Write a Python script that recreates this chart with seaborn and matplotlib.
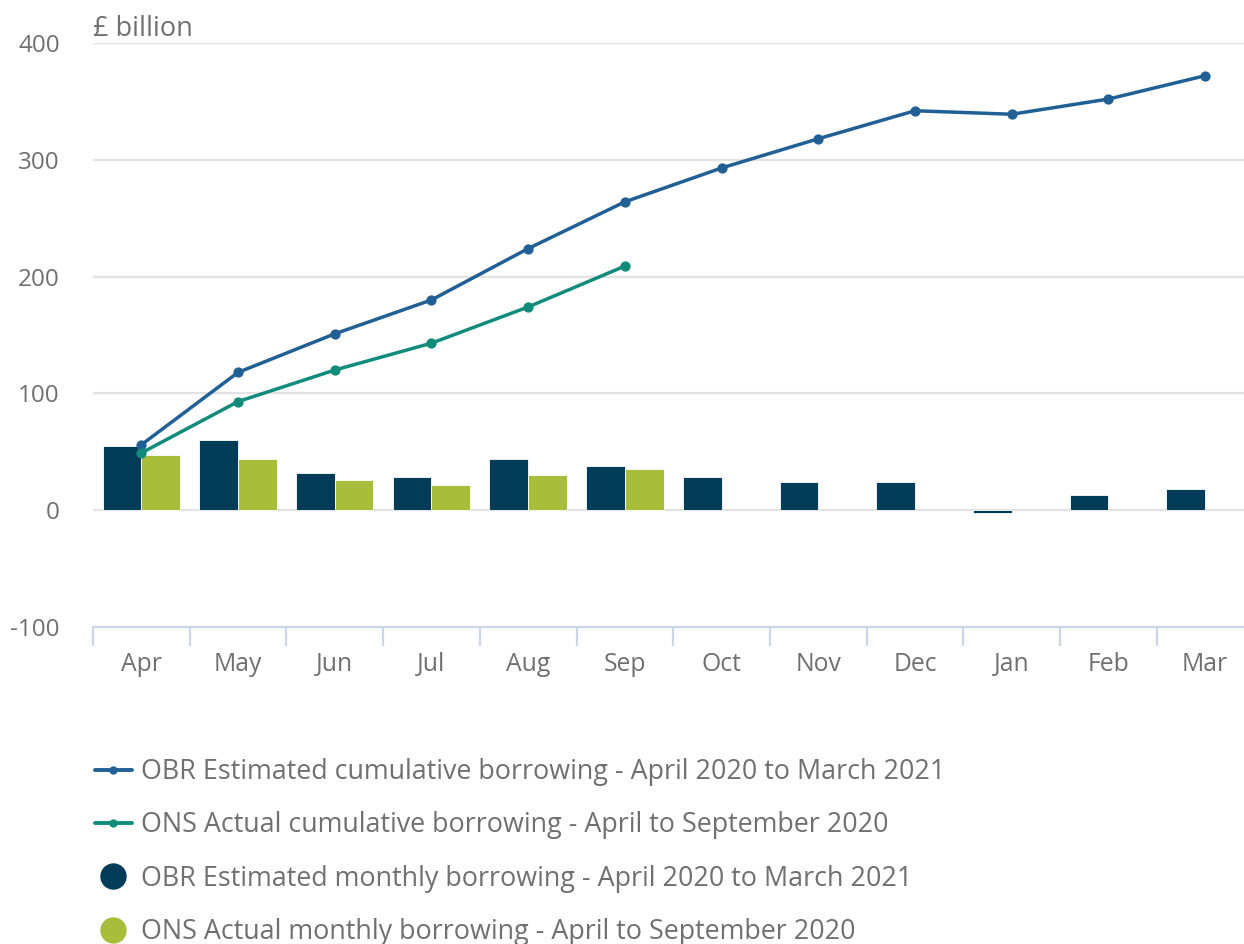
import matplotlib
matplotlib.use("Agg")
import matplotlib.pyplot as plt
from matplotlib.lines import Line2D
from matplotlib.ticker import FixedLocator
import numpy as np
import pandas as pd
import seaborn as sns

months = ["Apr", "May", "Jun", "Jul", "Aug", "Sep", "Oct", "Nov", "Dec", "Jan", "Feb", "Mar"]
obr_cumulative = [56, 118, 151, 180, 224, 264, 293, 318, 342, 339, 352, 372]
ons_cumulative = [49, 93, 120, 143, 174, 209]
obr_monthly = [55, 60.5, 32, 28, 43.5, 37.5, 28, 24, 24, -2.7, 12.6, 18.5]
ons_monthly = [47.5, 43.5, 26, 22, 30, 35.7]

lab_obr_cum = "OBR Estimated cumulative borrowing - April 2020 to March 2021"
lab_ons_cum = "ONS Actual cumulative borrowing - April to September 2020"
lab_obr_mon = "OBR Estimated monthly borrowing - April 2020 to March 2021"
lab_ons_mon = "ONS Actual monthly borrowing - April to September 2020"

c_obr_line = "#206095"
c_ons_line = "#118c7b"
c_obr_bar = "#003c57"
c_ons_bar = "#a8bd3a"
txt = "#707070"

sns.set_theme(style="white")
plt.rcParams["font.family"] = ["Open Sans", "DejaVu Sans"]

bars = pd.DataFrame({
    "month": months * 2,
    "value": obr_monthly + ons_monthly + [np.nan] * (len(months) - len(ons_monthly)),
    "series": [lab_obr_mon] * len(months) + [lab_ons_mon] * len(months),
})

fig = plt.figure(figsize=(12.44, 9.44), dpi=100)
ax = fig.add_axes([93 / 1244, 317 / 944, 1 - 93 / 1244, (627 - 43) / 944])

sns.barplot(data=bars, x="month", y="value", hue="series", order=months,
            hue_order=[lab_obr_mon, lab_ons_mon],
            palette=[c_obr_bar, c_ons_bar], saturation=1, width=0.8, gap=0,
            edgecolor="white", linewidth=0.6, errorbar=None, legend=False,
            ax=ax, zorder=2)

obr_line = pd.DataFrame({"month": months, "value": obr_cumulative})
ons_line = pd.DataFrame({"month": months[:len(ons_cumulative)], "value": ons_cumulative})
sns.pointplot(data=obr_line, x="month", y="value", order=months, color=c_obr_line,
              markers="o", markersize=5.5, linewidth=2.5, errorbar=None, ax=ax)
sns.pointplot(data=ons_line, x="month", y="value", order=months, color=c_ons_line,
              markers="o", markersize=5.5, linewidth=2.5, errorbar=None, ax=ax)
for coll in ax.collections + ax.lines:
    coll.set_zorder(3)

ax.set_ylim(-100, 400)
ax.set_xlim(-0.5, -0.5 + (1244 - 93) / 96.7)
ax.set_yticks([-100, 0, 100, 200, 300, 400])
ax.set_yticklabels(["-100", "0", "100", "200", "300", "400"])
ax.set_xlabel("")
ax.set_ylabel("")

for y in [0, 100, 200, 300, 400]:
    ax.axhline(y, color="#e3e3e3", linewidth=1.6, zorder=1)

for s in ["top", "right", "left"]:
    ax.spines[s].set_visible(False)
ax.spines["bottom"].set_color("#ccd6eb")
ax.spines["bottom"].set_linewidth(1.6)

ax.tick_params(axis="y", length=0, pad=24, labelsize=17.5, labelcolor=txt)
ax.tick_params(axis="x", which="major", length=0, pad=18, labelsize=17.8, labelcolor=txt)
ax.xaxis.set_minor_locator(FixedLocator(np.arange(-0.5, 12, 1.0)))
ax.tick_params(axis="x", which="minor", bottom=True, length=14, width=1.6,
               color="#ccd6eb", direction="out")

ax.annotate("£ billion", xy=(0, 1.0), xycoords="axes fraction", xytext=(0, 0.3),
            textcoords="offset points", ha="left", va="bottom",
            fontsize=19.5, color=txt)

handles = [
    Line2D([], [], color=c_obr_line, linewidth=2.8, marker="o", markersize=5),
    Line2D([], [], color=c_ons_line, linewidth=2.8, marker="o", markersize=5),
    Line2D([], [], color=c_obr_bar, linestyle="none", marker="o", markersize=18),
    Line2D([], [], color=c_ons_bar, linestyle="none", marker="o", markersize=18),
]
labels = [lab_obr_cum, lab_ons_cum, lab_obr_mon, lab_ons_mon]
leg = fig.legend(handles, labels, loc="upper left", bbox_to_anchor=(95 / 1244, 1 - 758 / 944),
                 frameon=False, fontsize=19.4, labelcolor=txt, handlelength=1.36,
                 handletextpad=0.33, labelspacing=0.94, borderaxespad=0, borderpad=0)

fig.savefig("out.png", dpi=100)
